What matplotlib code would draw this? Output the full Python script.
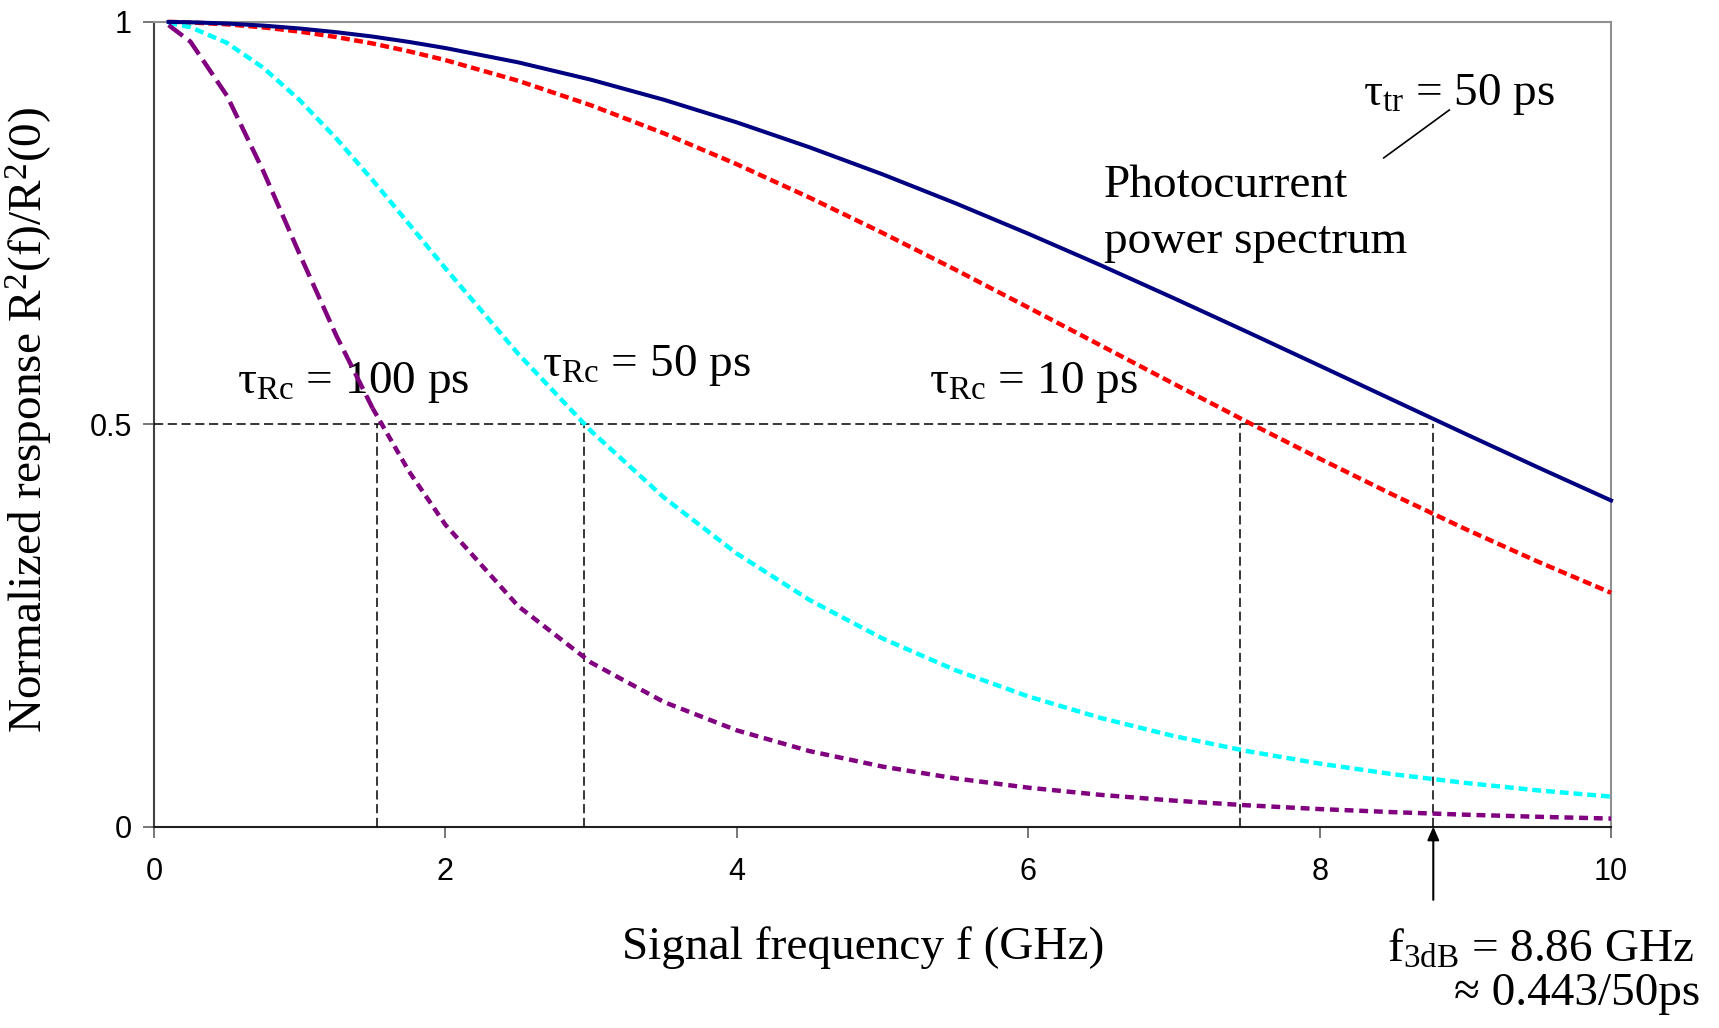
import matplotlib
matplotlib.use("Agg")
import matplotlib.pyplot as plt

plt.rcParams['mathtext.fontset'] = 'custom'
plt.rcParams['mathtext.rm'] = 'Liberation Serif'
plt.rcParams['mathtext.it'] = 'Liberation Serif:italic'

# signal frequency (GHz)
freq = [0.1, 0.25, 0.5, 0.75, 1.0, 1.25, 1.5, 1.75, 2.0, 2.5, 3.0, 3.5, 4.0,
        4.5, 5.0, 5.5, 6.0, 6.5, 7.0, 7.5, 8.0, 8.5, 9.0, 9.5, 10.0]

# normalized response R^2(f)/R^2(0)
resp_tr = [1.000, 0.9995, 0.998, 0.9954, 0.9918, 0.9872, 0.9818, 0.9751, 0.9675,
           0.9497, 0.9281, 0.9032, 0.8751, 0.8441, 0.8106, 0.7747, 0.7368, 0.6974,
           0.6566, 0.6150, 0.5728, 0.5304, 0.4881, 0.4463, 0.4053]
resp_rc10 = [1.000, 0.9993, 0.997, 0.9932, 0.9879, 0.9812, 0.9732, 0.9634, 0.9525,
             0.9268, 0.8963, 0.8615, 0.8231, 0.7816, 0.7378, 0.6921, 0.6451, 0.5977,
             0.5502, 0.5032, 0.4573, 0.4127, 0.3698, 0.3291, 0.2906]
resp_rc50 = [0.999, 0.9934, 0.974, 0.9430, 0.9027, 0.8553, 0.8034, 0.7488, 0.6937,
             0.5874, 0.4915, 0.4089, 0.3393, 0.2815, 0.2338, 0.1944, 0.1618, 0.1349,
             0.1125, 0.0939, 0.0783, 0.0652, 0.0543, 0.0450, 0.0373]
resp_rc100 = [0.996, 0.9754, 0.9084, 0.8145, 0.7111, 0.6106, 0.5200, 0.4414, 0.3751,
              0.2739, 0.2038, 0.1548, 0.1196, 0.0938, 0.0746, 0.0599, 0.0484, 0.0394,
              0.0323, 0.0265, 0.0218, 0.0180, 0.0148, 0.0122, 0.0100]

# 3 dB frequencies (GHz) of the four curves
f3db = [1.53, 2.95, 7.45, 8.78]

serif = 'Liberation Serif'
fs = 34

fig = plt.figure(figsize=(17.19, 10.28), dpi=100)
ax = fig.add_axes([0.0896, 0.1959, 0.8476, 0.7828])

ax.plot(freq, resp_tr, color='#000080', lw=2.9, clip_on=False, zorder=5)
ax.plot(freq, resp_rc10, color='#FF0000', lw=3.2, ls=(0, (2, 1)), clip_on=False, zorder=4)
ax.plot(freq, resp_rc50, color='#00FFFF', lw=3.2, ls=(0, (2, 1.1)), clip_on=False, zorder=4)
# purple curve: long dashes on the steep part, short ones after
ax.plot(freq[:7], resp_rc100[:7], color='#800080', lw=3.2, ls=(0, (4, 1.6)), clip_on=False, zorder=4)
ax.plot(freq[6:], resp_rc100[6:], color='#800080', lw=3.2, ls=(0, (2, 1.3)), clip_on=False, zorder=4)

# half-power guide lines
ax.plot([0, f3db[-1]], [0.5, 0.5], color='black', lw=1.1, ls=(0, (6, 3)), zorder=3)
for f in f3db:
    ax.plot([f, f], [0, 0.5], color='black', lw=1.1, ls=(0, (6, 3)), zorder=3)

ax.set_xlim(0, 10)
ax.set_ylim(0, 1)
ax.set_xticks([0, 2, 4, 6, 8, 10])
ax.set_yticks([0, 0.5, 1])
ax.set_yticklabels(['0', '0.5', '1'])
for lab in ax.get_xticklabels() + ax.get_yticklabels():
    lab.set_fontfamily('Liberation Sans')
ax.tick_params(direction='out', length=8, width=1.2, color='#606060', labelsize=22)
ax.tick_params(axis='x', pad=14)
ax.tick_params(axis='y', pad=8)

ax.spines['left'].set_color('#404040')
ax.spines['bottom'].set_color('#202020')
ax.spines['top'].set_color('#909090')
ax.spines['right'].set_color('#909090')
for s in ax.spines.values():
    s.set_linewidth(1.5)

ax.set_xlabel('Signal frequency f (GHz)', fontsize=fs, family=serif)
ax.xaxis.set_label_coords(0.487, -0.1235)
ax.set_ylabel(r'Normalized response R$^{2}$(f)/R$^{2}$(0)', fontsize=fs, family=serif)
ax.yaxis.set_label_coords(-0.068, 0.505)

ax.text(0.57, 0.539, r'τ$_{\mathrm{Rc}}$ = 100 ps', fontsize=fs, family=serif, va='baseline')
ax.text(2.66, 0.560, r'τ$_{\mathrm{Rc}}$ = 50 ps', fontsize=fs, family=serif, va='baseline')
ax.text(5.32, 0.539, r'τ$_{\mathrm{Rc}}$ = 10 ps', fontsize=fs, family=serif, va='baseline')
ax.text(8.30, 0.897, r'τ$_{\mathrm{tr}}$ = 50 ps', fontsize=fs, family=serif, va='baseline')
ax.plot([8.89, 8.44], [0.8905, 0.831], color='black', lw=1.2)
ax.text(6.52, 0.782, 'Photocurrent', fontsize=fs, family=serif, va='baseline')
ax.text(6.52, 0.713, 'power spectrum', fontsize=fs, family=serif, va='baseline')

ax.annotate('', xy=(f3db[-1], 0.0), xytext=(f3db[-1], -0.091),
            arrowprops=dict(arrowstyle='-|>,head_length=0.8,head_width=0.35',
                            color='black', lw=1.5, shrinkA=0, shrinkB=0),
            annotation_clip=False)
ax.text(10.57, -0.168, r'f$_{\mathrm{3dB}}$ = 8.86 GHz', fontsize=fs, family=serif,
        ha='right', va='baseline', clip_on=False)
ax.text(10.61, -0.222, '≈ 0.443/50ps', fontsize=fs, family=serif,
        ha='right', va='baseline', clip_on=False)

fig.savefig('out.png', dpi=100)
